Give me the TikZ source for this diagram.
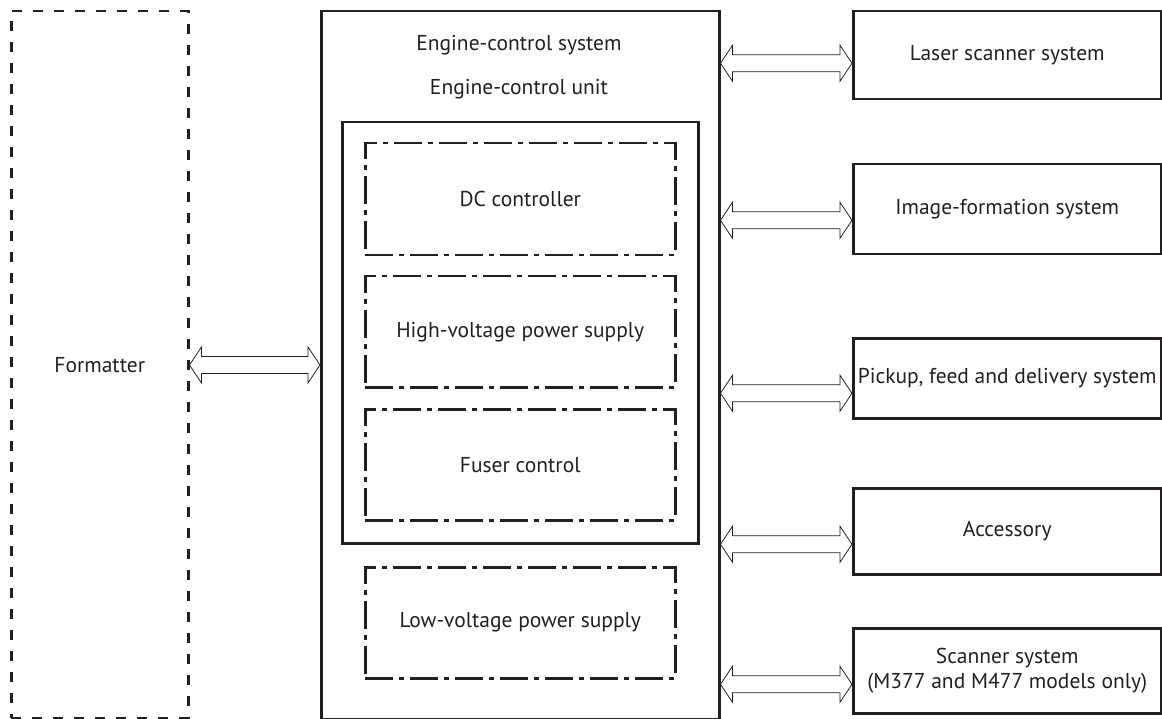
\documentclass[tikz,border=0pt]{standalone}
\usepackage{fontspec}
\setmainfont{PT Sans}
\usetikzlibrary{calc}
\definecolor{ink}{HTML}{231F20}
\tikzset{
  label text/.style={text=ink, font=\fontsize{21.5}{25}\selectfont, align=center},
  sysbox/.style={draw=ink, line width=2.5pt, anchor=north west, inner sep=0pt, label text},
  fmtbox/.style={sysbox, dash pattern=on 10pt off 11pt},
  subbox/.style={sysbox, dash pattern=on 28pt off 6pt on 5pt off 6pt},
  title/.style={label text, inner sep=0pt},
  bus/.style={draw=ink, line width=0.8pt, fill=white, line join=miter}
}
\newcommand{\busarrow}[2]{%
  \draw[bus] #1 -- ($#1+(12,-18)$) -- ($#1+(12,-8.5)$) -- ($#2+(-12,-8.5)$)
    -- ($#2+(-12,-18)$) -- #2 -- ($#2+(-12,18)$) -- ($#2+(-12,8.5)$)
    -- ($#1+(12,8.5)$) -- ($#1+(12,18)$) -- cycle;}
\begin{document}
\begin{tikzpicture}[x=1pt,y=-1pt]
\useasboundingbox (0,0) rectangle (1162,719);
\node[fmtbox, minimum width=177, minimum height=707] (fmt) at (10,10) {Formatter};
\node[sysbox, minimum width=398, minimum height=708] (eng) at (320,10) {};
\node[title] (engsys) at (519,45) {Engine-control system};
\node[title] (engunit) at (519,89) {Engine-control unit};
\node[sysbox, minimum width=356, minimum height=421] (ecu) at (341,121) {};
\foreach \n/\y/\h/\t in {dc/142/112/DC controller, hv/275/111/High-voltage power supply,
  fus/408/111/Fuser control, lv/566/111/Low-voltage power supply}
  \node[subbox, minimum width=310, minimum height=\h] (\n) at (364,\y) {\t};
\foreach \n/\y/\h/\t in {las/10/88/Laser scanner system, img/163/90/Image-formation system,
  pick/337/80/{Pickup, feed and delivery system}, acc/487/86/Accessory,
  scan/627/85/{Scanner system\\(M377 and M477 models only)}}
  \node[sysbox, minimum width=308, minimum height=\h] (\n) at (852,\y) {\t};
\coordinate (fa) at (0,365);
\coordinate (fl) at (fmt.east |- fa);
\coordinate (fr) at (eng.west |- fa);
\busarrow{(fl)}{(fr)}
\foreach \n/\d in {las/8, img/11, pick/15, acc/13, scan/13.5} {
  \coordinate (r) at ($(\n.west)+(0,\d)$);
  \coordinate (l) at (eng.east |- r);
  \busarrow{(l)}{(r)}
}
\end{tikzpicture}
\end{document}
